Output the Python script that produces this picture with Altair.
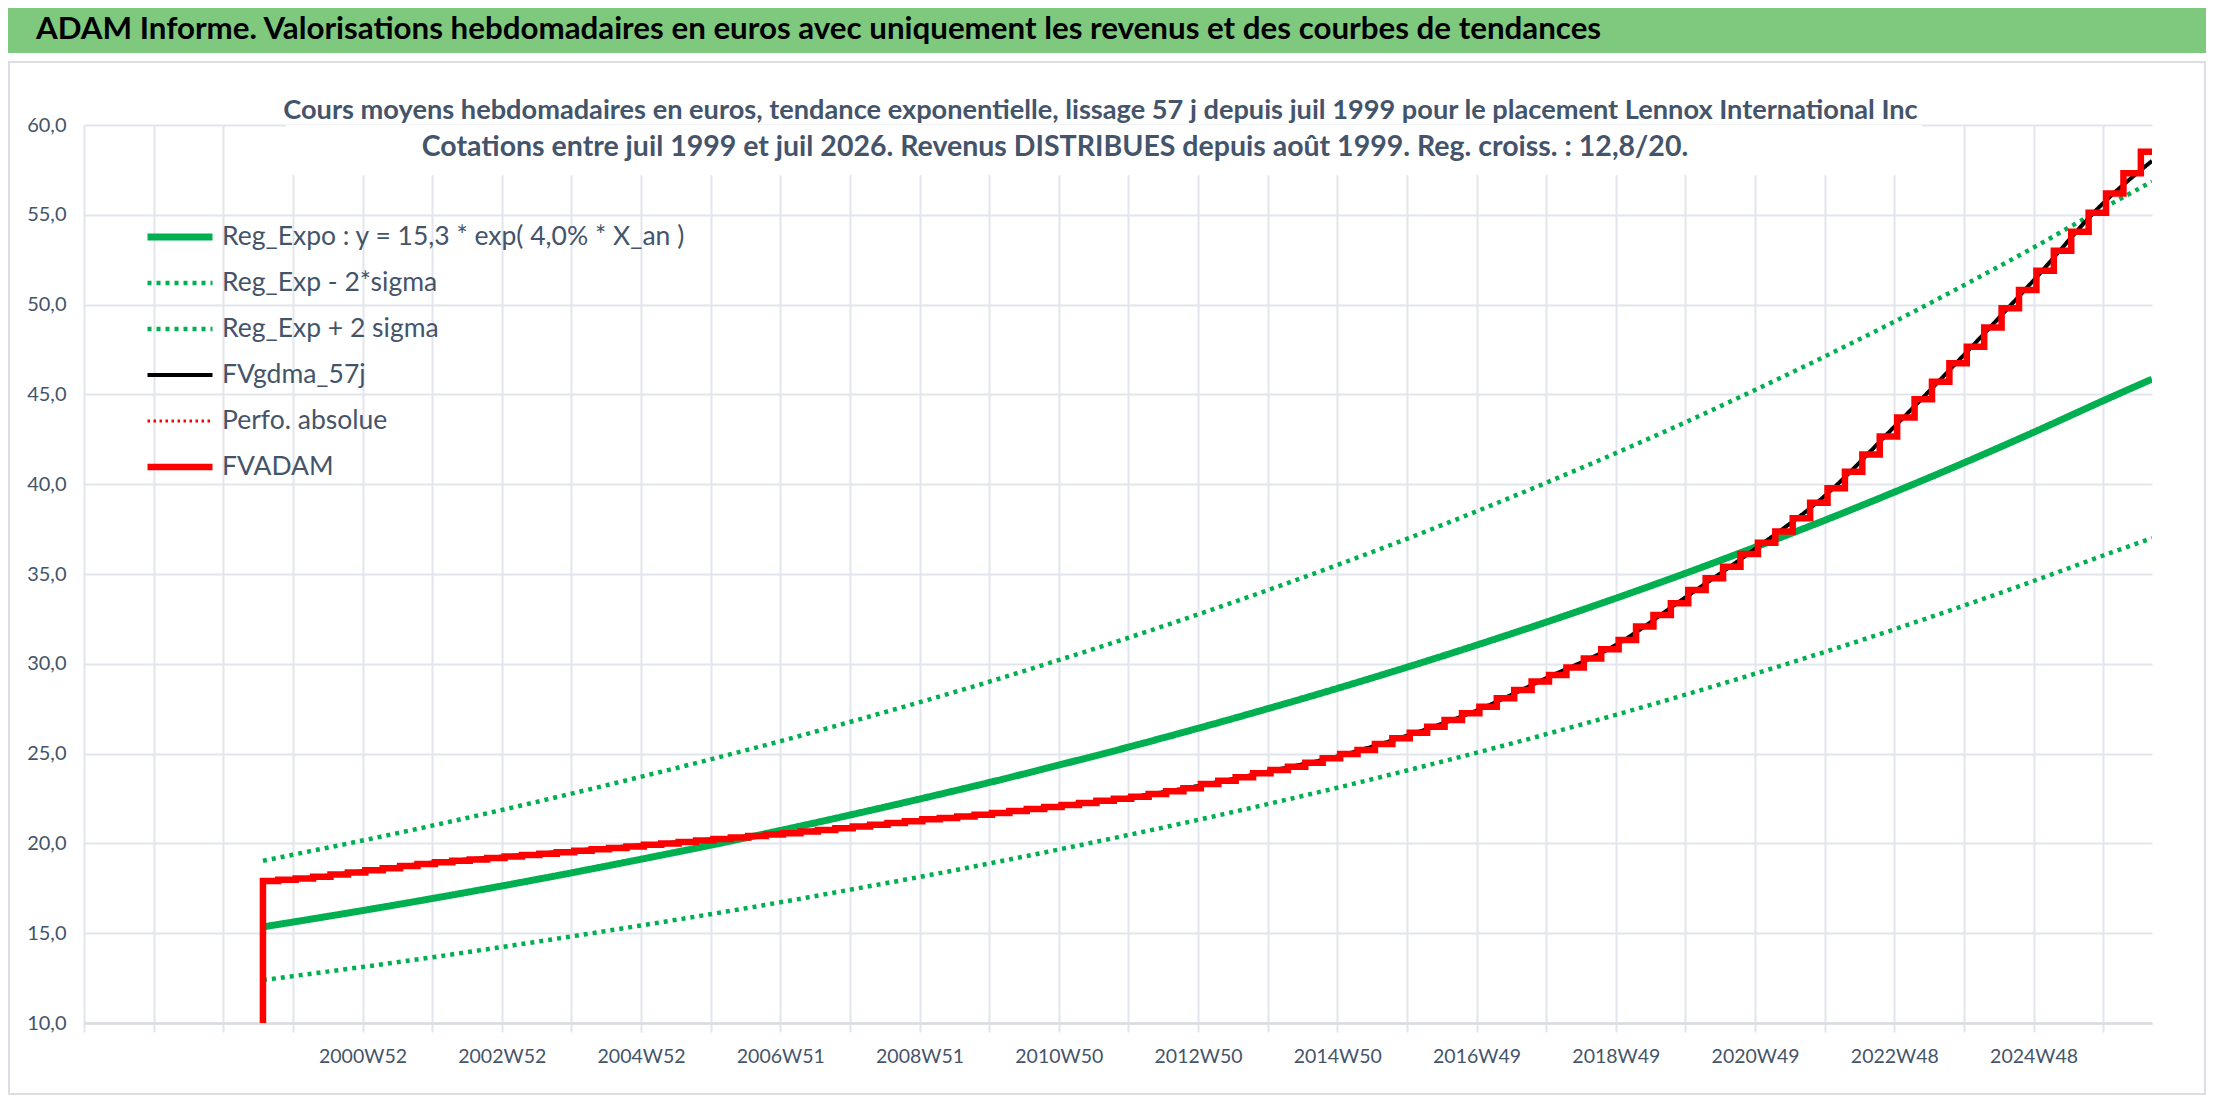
import altair as alt
import pandas as pd

# ---------------- texts ----------------
HEADER = "ADAM Informe. Valorisations hebdomadaires en euros avec uniquement les revenus et des courbes de tendances"
TITLE_1 = ("Cours moyens hebdomadaires en euros, tendance exponentielle, lissage 57 j depuis juil 1999 "
           "pour le placement Lennox International Inc")
TITLE_2 = "Cotations entre juil 1999 et juil 2026. Revenus DISTRIBUES depuis août 1999. Reg. croiss. : 12,8/20."

# ---------------- series definitions ----------------
series_names = [
    "Reg_Expo : y = 15,3 * exp( 4,0% *  X_an )",
    "Reg_Exp - 2*sigma",
    "Reg_Exp + 2 sigma",
    "FVgdma_57j",
    "Perfo. absolue",
    "FVADAM",
]
series_colors = ["#00B050", "#00B050", "#00B050", "#000000", "#FF0000", "#FF0000"]
series_dash = [[1, 0], [4, 5], [4, 5], [1, 0], [2.5, 3.5], [1, 0]]
series_width = [7, 4.5, 4.5, 4, 3, 6.5]

# ---------------- axes ----------------
x_grid_years = list(range(1997, 2027))
x_tick_pos = list(range(2001, 2026, 2))
x_tick_labels = ["2000W52", "2002W52", "2004W52", "2006W51", "2008W51", "2010W50", "2012W50",
                 "2014W50", "2016W49", "2018W49", "2020W49", "2022W48", "2024W48"]
y_ticks = list(range(10, 61, 5))

# ---------------- trend curves (read at each year) ----------------
trend_x = [1999.57] + list(range(2000, 2027)) + [2026.7]
reg_expo = [15.35, 15.62, 16.26, 16.93, 17.63, 18.36, 19.12, 19.90, 20.72, 21.58, 22.47, 23.39, 24.36, 25.36,
            26.41, 27.50, 28.63, 29.81, 31.04, 32.32, 33.65, 35.04, 36.49, 37.99, 39.56, 41.19, 42.89, 44.65, 45.85]
reg_minus = [12.39, 12.61, 13.12, 13.66, 14.23, 14.82, 15.43, 16.06, 16.72, 17.42, 18.13, 18.88, 19.66, 20.47,
             21.31, 22.19, 23.10, 24.06, 25.05, 26.08, 27.16, 28.28, 29.45, 30.66, 31.92, 33.24, 34.61, 36.03, 37.0]
reg_plus = [19.03, 19.37, 20.16, 20.99, 21.86, 22.77, 23.71, 24.68, 25.69, 26.76, 27.86, 29.00, 30.21, 31.45,
            32.75, 34.10, 35.50, 36.96, 38.49, 40.08, 41.73, 43.45, 45.25, 47.11, 49.05, 51.08, 53.18, 55.37, 56.85]
fvgdma = [17.9, 18.0, 18.45, 18.93, 19.26, 19.58, 19.9, 20.22, 20.55, 20.9, 21.3, 21.65, 22.1, 22.55,
          23.2, 24.0, 24.85, 26.0, 27.4, 29.2, 31.05, 33.7, 36.4, 39.35, 43.2, 47.2, 51.35, 55.65, 58.0]

# ---------------- FVADAM staircase (quarterly distributions) ----------------
fv_x = ([1999.57, 1999.57, 1999.79]
        + [round(yr + q, 2) for yr in range(2000, 2026) for q in (0.04, 0.29, 0.54, 0.79)]
        + [2026.04, 2026.29, 2026.54, 2026.7])
fvadam = [10.0, 17.9, 17.97,
          18.05, 18.15, 18.27, 18.38,
          18.50, 18.62, 18.74, 18.85,
          18.95, 19.03, 19.11, 19.19,
          19.27, 19.35, 19.43, 19.51,
          19.59, 19.67, 19.75, 19.83,
          19.92, 20.00, 20.08, 20.16,
          20.25, 20.33, 20.41, 20.49,
          20.57, 20.66, 20.75, 20.84,
          20.94, 21.04, 21.14, 21.24,
          21.34, 21.42, 21.50, 21.59,
          21.69, 21.80, 21.91, 22.02,
          22.14, 22.25, 22.37, 22.48,
          22.60, 22.75, 22.90, 23.07,
          23.31, 23.49, 23.68, 23.90,
          24.09, 24.27, 24.49, 24.74,
          24.98, 25.20, 25.53, 25.85,
          26.16, 26.50, 26.87, 27.24,
          27.61, 28.08, 28.54, 29.01,
          29.38, 29.80, 30.30, 30.81,
          31.33, 32.07, 32.72, 33.37,
          34.11, 34.76, 35.41, 36.11,
          36.74, 37.36, 38.10, 38.97,
          39.77, 40.70, 41.65, 42.65,
          43.72, 44.73, 45.71, 46.73,
          47.66, 48.73, 49.79, 50.81,
          51.89, 53.00, 54.06, 55.12,
          56.19, 57.31, 58.51, 58.51]

# white box of the chart title that hides the top of the grid
title_box = pd.DataFrame({"x": [1999.9], "x2": [2023.4], "y": [57.2], "y2": [60.0]})

rows = []


def add(name, xs, ys):
    for i, (a, b) in enumerate(zip(xs, ys)):
        rows.append({"series": name, "x": a, "y": b, "i": i})


add(series_names[0], trend_x, reg_expo)
add(series_names[1], trend_x, reg_minus)
add(series_names[2], trend_x, reg_plus)
add(series_names[3], trend_x, fvgdma)
add(series_names[4], fv_x, fvadam)
add(series_names[5], fv_x, fvadam)
df = pd.DataFrame(rows)

# ---------------- styling ----------------
TEXT = "#44546A"
GRID = "#e2e5eb"
FONT = "Lato"
HEADER_GREEN = "#7fc97f"
BORDER = "#dcdee3"

x_scale = alt.Scale(domain=[1997, 2026.7], nice=False, zero=False)
y_scale = alt.Scale(domain=[10, 60], nice=False, zero=False)

label_expr_x = (f"indexof({x_tick_pos}, datum.value) >= 0 ? "
                f"{x_tick_labels}[indexof({x_tick_pos}, datum.value)] : ''")

x_axis = alt.Axis(values=x_grid_years, labelExpr=label_expr_x, title=None, grid=True, gridColor=GRID,
                  gridWidth=2, ticks=True, tickSize=9, tickColor=GRID, tickWidth=2, domain=True,
                  domainColor="#d9dce2", domainWidth=2.5, labelPadding=15, labelFont=FONT,
                  labelFontSize=19.5, labelColor=TEXT, labelOverlap=False, labelFlush=False, labelAngle=0)
y_axis = alt.Axis(values=y_ticks, labelExpr="replace(format(datum.value, '.1f'), '.', ',')", title=None,
                  grid=True, gridColor=GRID, gridWidth=2, ticks=False, domain=False, labelPadding=18,
                  labelFont=FONT, labelFontSize=20, labelColor=TEXT, minExtent=76)

legend = alt.Legend(title=None, orient="none", legendX=60, legendY=89, symbolType="stroke",
                    symbolSize=4225, clipHeight=46, rowPadding=0, padding=0, labelOffset=6,
                    labelFont=FONT, labelFontSize=26.5, labelColor=TEXT, labelLimit=900)

base = alt.Chart(df).encode(
    x=alt.X("x:Q", scale=x_scale, axis=x_axis),
    y=alt.Y("y:Q", scale=y_scale, axis=y_axis),
    color=alt.Color("series:N", scale=alt.Scale(domain=series_names, range=series_colors), legend=legend),
    strokeDash=alt.StrokeDash("series:N", scale=alt.Scale(domain=series_names, range=series_dash),
                              legend=legend),
    strokeWidth=alt.StrokeWidth("series:N",
                                scale=alt.Scale(type="ordinal", domain=series_names, range=series_width),
                                legend=legend),
    order=alt.Order("i:Q"),
)


def line_layer(k, interp):
    return base.mark_line(interpolate=interp, clip=True).transform_filter(
        alt.datum.series == series_names[k])


one_row = pd.DataFrame({"t": [HEADER], "t2": [TITLE_2]})

# green header band of the report and the chart-area frame (decoration, in pixels)
header_band = alt.Chart(one_row).mark_rect(color=HEADER_GREEN).encode(
    x=alt.value(-76), x2=alt.value(2122), y=alt.value(-117), y2=alt.value(-72))
header_text = alt.Chart(one_row).mark_text(
    align="left", baseline="middle", font=FONT, fontSize=31.3, fontWeight="bold", color="black"
).encode(x=alt.value(-48), y=alt.value(-95), text="t:N")
frame = alt.Chart(one_row).mark_rect(fillOpacity=0, stroke=BORDER, strokeWidth=2).encode(
    x=alt.value(-75), x2=alt.value(2121), y=alt.value(-63), y2=alt.value(969))
# second line of the chart title (sits over the top of the plot area, as in the original)
title_line2 = alt.Chart(one_row).mark_text(
    align="center", baseline="middle", font=FONT, fontSize=28.5, fontWeight="bold", color=TEXT
).encode(x=alt.value(971), y=alt.value(22), text="t2:N")

box = alt.Chart(title_box).mark_rect(color="white").encode(
    x=alt.X("x:Q", scale=x_scale, axis=x_axis), x2="x2:Q",
    y=alt.Y("y:Q", scale=y_scale, axis=y_axis), y2="y2:Q")

chart = alt.layer(
    header_band,
    header_text,
    frame,
    box,
    line_layer(0, "monotone"),
    line_layer(1, "monotone"),
    line_layer(2, "monotone"),
    line_layer(3, "monotone"),
    line_layer(4, "step-after"),
    line_layer(5, "step-after"),
    title_line2,
).properties(
    width=2068, height=898, padding=0, background="white",
    title=alt.TitleParams(text=TITLE_1, anchor="middle", offset=-117.5, dx=-17.5,
                          font=FONT, fontSize=27.2, fontWeight="bold", color=TEXT),
).configure_view(strokeWidth=0)

chart.save("out.html", embed_options={"renderer": "svg", "actions": False})
